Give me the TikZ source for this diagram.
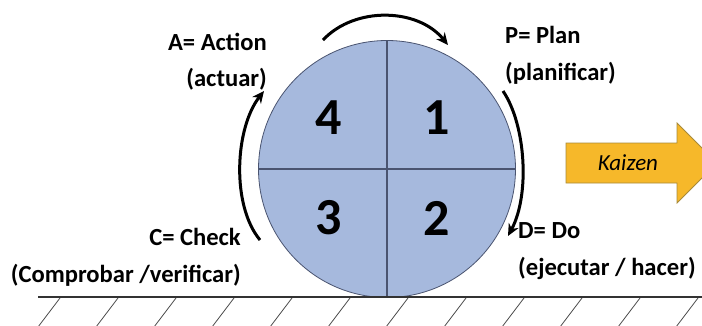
\documentclass[tikz,border=0pt]{standalone}
\usepackage{fontspec}
\setmainfont{Carlito}
\usetikzlibrary{arrows.meta}
\definecolor{wheel}{HTML}{A6B9DD}
\definecolor{wheelline}{HTML}{4A5470}
\definecolor{kaizen}{HTML}{F6B82A}
\definecolor{kaizenline}{HTML}{A88A3A}
\tikzset{
  lbl/.style={inner sep=0pt, font=\fontsize{24.6}{28}\selectfont\bfseries},
  num/.style={inner sep=0pt, font=\fontsize{52}{56}\selectfont\bfseries},
  cyc/.style={line width=3pt, black, -{Stealth[length=12pt,width=11pt]}},
  hatch/.style={line width=0.8pt, black!70},
}
\begin{document}
\begin{tikzpicture}[x=1pt,y=-1pt]
\useasboundingbox (0,0) rectangle (702,325);
\clip (0,0) rectangle (702,325);
% wheel
\node[circle, minimum size=257pt, inner sep=0pt, fill=wheel, draw=wheelline, line width=0.8pt] (c) at (387,169) {};
\draw[wheelline, line width=1.2pt] (c.north) -- (c.south);
\draw[wheelline, line width=1.2pt] (c.west) -- (c.east);
\node[num] (n4) at (329,118) {4};
\node[num] (n1) at (437,118) {1};
\node[num] (n3) at (329,218) {3};
\node[num] (n2) at (437,218) {2};
% ground
\coordinate (g0) at (38,297);
\coordinate (g1) at (702,297);
\draw[line width=1.4pt, black!80] (g0) -- (g1);
\foreach \x in {60,118,176,234,292,350,408,466,524,582,640,698,756}{
  \draw[hatch] (\x,298) -- (\x-22,327);
}
% cycle arrows
\coordinate (t0) at (323,40);
\coordinate (t1) at (448,45);
\draw[cyc] (t0) .. controls (355,6) and (418,8) .. (t1);
\coordinate (r0) at (503,91);
\coordinate (r1) at (508,236);
\draw[cyc] (r0) .. controls (526,125) and (530,195) .. (r1);
\coordinate (l0) at (260,240);
\coordinate (l1) at (264,91);
\draw[cyc] (l0) .. controls (231,205) and (235,128) .. (l1);
% labels
\node[lbl, anchor=base east] (a1) at (267,50) {A= Action};
\node[lbl, anchor=base east] (a2) at (267,86) {(actuar)};
\node[lbl, anchor=base west] (p1) at (505,43) {P= Plan};
\node[lbl, anchor=base west] (p2) at (505,80) {(planificar)};
\node[lbl, anchor=base east] (k1) at (241,245) {C= Check};
\node[lbl, anchor=base east] (k2) at (241,282) {(Comprobar /verificar)};
\node[lbl, anchor=base west] (d1) at (518,238) {D= Do};
\node[lbl, anchor=base west] (d2) at (518,275) {(ejecutar / hacer)};
% Kaizen arrow
\draw[fill=kaizen, draw=kaizenline, line width=0.8pt]
  (566,143) -- (677,143) -- (677,123) -- (717,163) -- (677,203) -- (677,183) -- (566,183) -- cycle;
\node[inner sep=0pt, font=\fontsize{23}{26}\selectfont\itshape] (kz) at (628,163) {Kaizen};
\end{tikzpicture}
\end{document}
